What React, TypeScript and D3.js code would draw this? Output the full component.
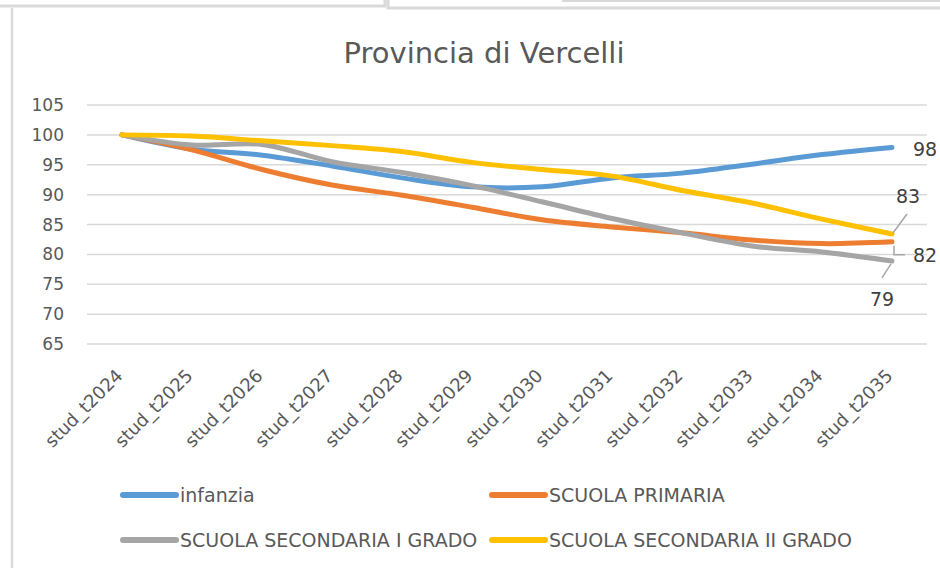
import React, { useEffect, useRef } from 'react';
import * as d3 from 'd3';

const categories = [
    'stud_t2024', 'stud_t2025', 'stud_t2026', 'stud_t2027', 'stud_t2028', 'stud_t2029',
    'stud_t2030', 'stud_t2031', 'stud_t2032', 'stud_t2033', 'stud_t2034', 'stud_t2035',
];

const seriesNames = ['infanzia', 'SCUOLA PRIMARIA', 'SCUOLA SECONDARIA I GRADO', 'SCUOLA SECONDARIA II GRADO'];

const infanzia = [100, 97.6, 96.6, 94.8, 92.8, 91.3, 91.3, 92.8, 93.6, 95.1, 96.7, 97.9];
const primaria = [100, 97.5, 94.2, 91.6, 89.9, 87.9, 85.8, 84.6, 83.6, 82.4, 81.8, 82.1];
const secondariaI = [100, 98.3, 98.4, 95.5, 93.7, 91.5, 88.8, 86.0, 83.6, 81.4, 80.4, 78.9];
const secondariaII = [100, 99.8, 99.0, 98.2, 97.2, 95.4, 94.2, 93.1, 90.7, 88.6, 85.9, 83.4];

const endLabels = ['98', '82', '79', '83'];
const yTicks = [65, 70, 75, 80, 85, 90, 95, 100, 105];

const colors = ['#5B9BD5', '#ED7D31', '#A5A5A5', '#FFC000'];

const W = 940;
const H = 568;
const FONT = '"DejaVu Sans", sans-serif';

const App: React.FC = () => {
    const svgRef = useRef<SVGSVGElement>(null);

    useEffect(() => {
        if (!svgRef.current) return;
        const svg = d3.select(svgRef.current);
        svg.selectAll('*').remove();

        const series = [infanzia, primaria, secondariaI, secondariaII];

        // window frame bits from the screenshot
        const frame = svg.append('g').attr('stroke', '#d9d9d9').attr('fill', 'none');
        frame.append('path').attr('d', 'M0,6H385V0').attr('stroke-width', 3);
        frame.append('path').attr('d', 'M388,0V8H940').attr('stroke-width', 3);
        frame.append('path').attr('d', 'M562,1H940').attr('stroke-width', 2);
        frame.append('path').attr('d', 'M12,8V568').attr('stroke-width', 2.5);

        const x = d3.scalePoint<string>().domain(categories).range([87, 927]).padding(0.5);
        const y = d3.scaleLinear().domain([65, 105]).range([344, 105]);

        svg.append('text')
            .attr('x', 484)
            .attr('y', 63)
            .attr('text-anchor', 'middle')
            .style('font-family', FONT)
            .style('font-size', '29px')
            .style('fill', '#595959')
            .text('Provincia di Vercelli');

        // gridlines
        svg.append('g')
            .selectAll('line')
            .data(yTicks)
            .enter()
            .append('line')
            .attr('x1', 87)
            .attr('x2', 927)
            .attr('y1', d => y(d))
            .attr('y2', d => y(d))
            .attr('stroke', '#d9d9d9')
            .attr('stroke-width', 1.5);

        svg.append('g')
            .selectAll('text')
            .data(yTicks)
            .enter()
            .append('text')
            .attr('x', 64)
            .attr('y', d => y(d))
            .attr('dy', '0.36em')
            .attr('text-anchor', 'end')
            .style('font-family', FONT)
            .style('font-size', '17px')
            .style('fill', '#595959')
            .text(d => d);

        svg.append('g')
            .selectAll('text')
            .data(categories)
            .enter()
            .append('text')
            .attr('transform', d => `translate(${(x(d) ?? 0) - 7}, 368) rotate(-45)`)
            .attr('text-anchor', 'end')
            .attr('dy', '0.7em')
            .style('font-family', FONT)
            .style('font-size', '18px')
            .style('fill', '#595959')
            .text(d => d);

        const line = d3.line<number>()
            .x((_, i) => x(categories[i]) ?? 0)
            .y(d => y(d))
            .curve(d3.curveCatmullRom.alpha(0.5));

        svg.append('g')
            .selectAll('path')
            .data(series)
            .enter()
            .append('path')
            .attr('d', d => line(d))
            .attr('fill', 'none')
            .attr('stroke', (_, i) => colors[i])
            .attr('stroke-width', 5)
            .attr('stroke-linecap', 'round')
            .attr('stroke-linejoin', 'round');

        // end labels with leader lines
        const last = categories.length - 1;
        const xl = x(categories[last]) ?? 0;
        const labelPos = [
            { dx: 33, dy: 9, leader: null },
            { dx: 33, dy: 20, leader: (py: number) => `M${xl + 2},${py + 4}V${py + 13}H${xl + 13}` },
            { dx: -10, dy: 45, leader: (py: number) => `M${xl - 1},${py + 3}L${xl - 10},${py + 17}` },
            { dx: 16, dy: -31, leader: (py: number) => `M${xl + 1},${py - 1}L${xl + 15},${py - 20}` },
        ];
        const labels = svg.append('g');
        series.forEach((s, i) => {
            const py = y(s[last]);
            const p = labelPos[i];
            if (p.leader) {
                labels.append('path')
                    .attr('d', p.leader(py))
                    .attr('fill', 'none')
                    .attr('stroke', '#a6a6a6')
                    .attr('stroke-width', 1.5);
            }
            labels.append('text')
                .attr('x', xl + p.dx)
                .attr('y', py + p.dy)
                .attr('text-anchor', 'middle')
                .style('font-family', FONT)
                .style('font-size', '19px')
                .style('fill', '#404040')
                .text(endLabels[i]);
        });

        // legend
        const legendPos = [[123, 495], [492, 495], [123, 540], [492, 540]];
        const legend = svg.append('g');
        seriesNames.forEach((name, i) => {
            const [lx, ly] = legendPos[i];
            legend.append('line')
                .attr('x1', lx)
                .attr('x2', lx + 53)
                .attr('y1', ly)
                .attr('y2', ly)
                .attr('stroke', colors[i])
                .attr('stroke-width', 6)
                .attr('stroke-linecap', 'round');
            legend.append('text')
                .attr('x', lx + 57)
                .attr('y', ly + 7)
                .style('font-family', FONT)
                .style('font-size', '19px')
                .style('fill', '#595959')
                .text(name);
        });
    }, []);

    return (
        <div style={{ position: 'fixed', left: 0, top: 0, width: W, height: H, background: '#fff' }}>
            <svg ref={svgRef} width={W} height={H}></svg>
        </div>
    );
};

export default App;
